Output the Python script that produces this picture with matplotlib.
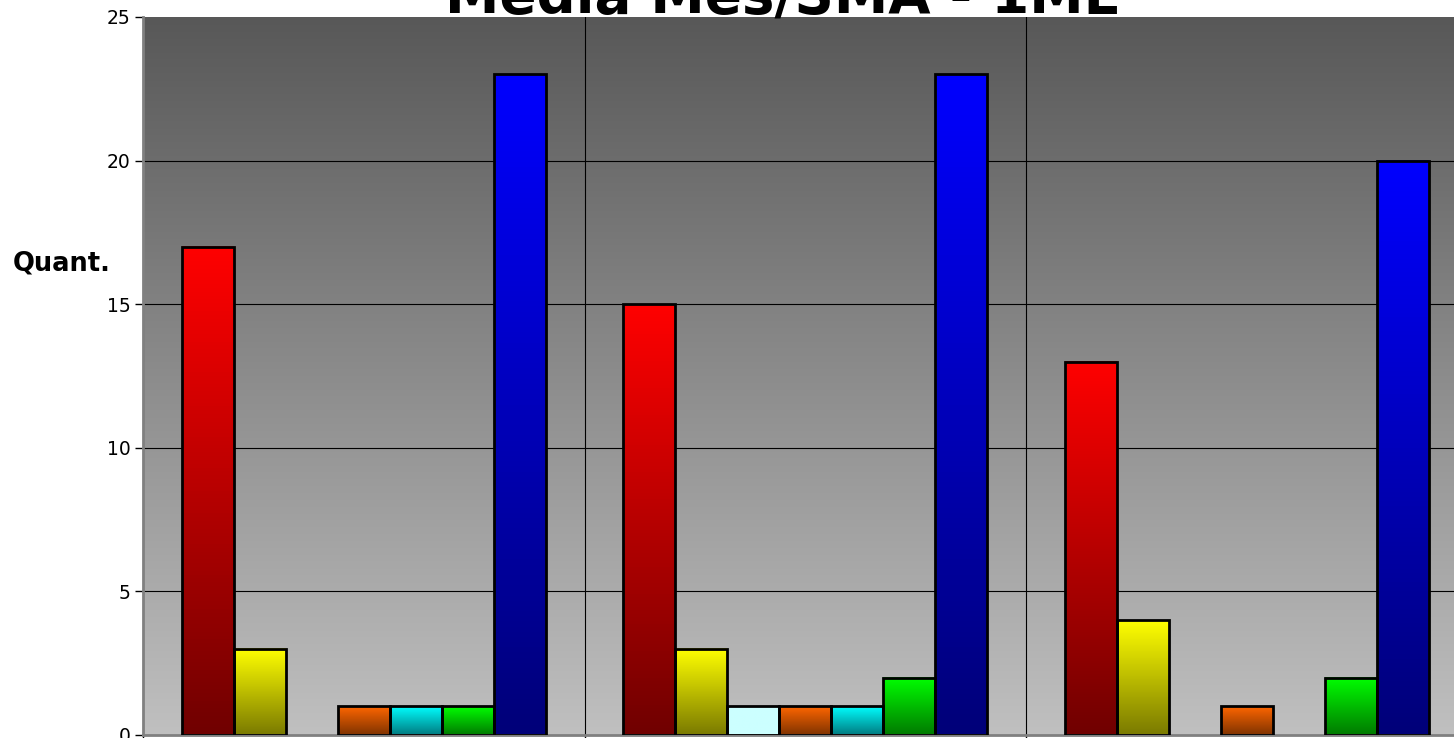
import numpy as np
import matplotlib.pyplot as plt
from matplotlib.colors import LinearSegmentedColormap

plt.rcParams['font.family'] = ['DejaVu Sans']

# Data
groups = ["1", "2", "3"]
series_colors_top = ["#ff0000", "#ffff00", "#ccffff", "#ff6600", "#00ffff", "#00ff00", "#0000ff"]
series_colors_bottom = ["#700000", "#7a7a00", "#ccffff", "#7f3300", "#007a80", "#007a00", "#000078"]
red = [17, 15, 13]
yellow = [3, 3, 4]
light_cyan = [0, 1, 0]
orange = [1, 1, 1]
cyan = [1, 1, 0]
green = [1, 2, 2]
blue = [23, 23, 20]
series = [red, yellow, light_cyan, orange, cyan, green, blue]
title = "Média Mes/SMA - 1ME"

fig = plt.figure(figsize=(14.54, 7.38), dpi=100)
W, H = 1454, 738
ax = fig.add_axes([143 / W, 3 / H, 1324.5 / W, 718 / H])

ax.set_xlim(0, 3)
ax.set_ylim(0, 25)

# background gradient
bg = np.linspace(0, 1, 256).reshape(-1, 1)
bg_cmap = LinearSegmentedColormap.from_list("bg", ["#c0c0c0", "#585858"])
ax.imshow(bg, cmap=bg_cmap, extent=(0, 3, 0, 25), aspect='auto', origin='lower', zorder=0)

# gridlines
for yv in [5, 10, 15, 20]:
    ax.axhline(yv, color='black', lw=0.8, zorder=1)
for xv in [1, 2]:
    ax.axvline(xv, color='black', lw=0.8, zorder=1)

bw = 1 / 8.5
grad = np.linspace(0, 1, 128).reshape(-1, 1)
for s, vals in enumerate(series):
    cmap = LinearSegmentedColormap.from_list("c%d" % s, [series_colors_bottom[s], series_colors_top[s]])
    for g, v in enumerate(vals):
        if v <= 0:
            continue
        x0 = g + 0.75 * bw + s * bw
        ax.imshow(grad, cmap=cmap, extent=(x0, x0 + bw, 0, v), aspect='auto',
                  origin='lower', zorder=2)
        ax.bar(x0, v, bw, align='edge', facecolor='none', edgecolor='black',
               linewidth=2, zorder=3)

ax.set_xlim(0, 3)
ax.set_ylim(0, 25)
ax.set_yticks([0, 5, 10, 15, 20, 25])
ax.set_xticks([0, 1, 2, 3])
ax.set_xticklabels([])
ax.tick_params(axis='y', direction='out', length=6, width=1, labelsize=13.5, pad=3)
ax.tick_params(axis='x', direction='out', length=5, width=1)
for side in ['top', 'right']:
    ax.spines[side].set_visible(False)
for side in ['left', 'bottom']:
    ax.spines[side].set_color('#808080')
    ax.spines[side].set_linewidth(2)

fig.text(62 / W, 1 - 263 / H, "Quant.", fontsize=18.5, fontweight='bold',
         ha='center', va='center')
t = fig.text(783 / W, 1 - 12 / H, title, fontsize=30, fontweight='bold',
             ha='center', va='baseline')
# scale title so it spans about 675 px like the reference
r = fig.canvas.get_renderer()
tw = t.get_window_extent(renderer=r).width
t.set_fontsize(30 * 675 / tw)

fig.savefig("out.png", dpi=100)
